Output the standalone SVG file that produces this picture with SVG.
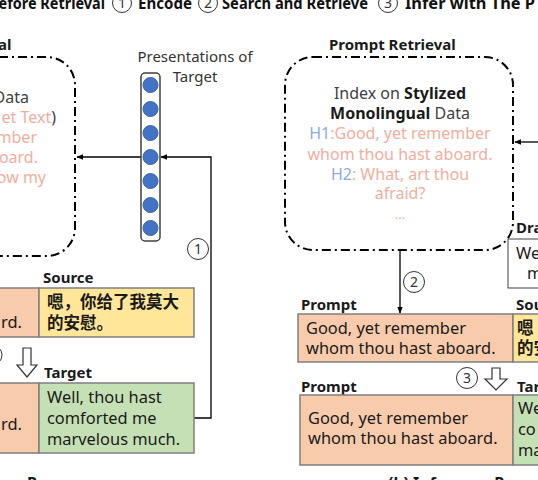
<svg xmlns="http://www.w3.org/2000/svg" width="538" height="480" viewBox="0 0 538 480">
<defs>
<style>
text{font-family:"Noto Sans","Noto Sans CJK SC",sans-serif;}
.b{font-weight:bold;}
.lg{font-size:15.5px;font-weight:bold;fill:#111;}
.lbl{font-size:15px;font-weight:bold;fill:#1a1a1a;}
.bx{font-size:16.4px;fill:#1a1a1a;}
.cjk{font-family:"Noto Sans CJK SC",sans-serif;font-size:16.5px;font-weight:bold;fill:#1a1a1a;}
.pk{fill:#F1AE9E;}
.bl{fill:#8FAADC;}
.gr{fill:#404040;}
.dash{fill:none;stroke:#000;stroke-width:2;stroke-dasharray:9 4 2 4;}
.box{stroke:#7F7F7F;stroke-width:1.5;}
.peach{fill:#F8CBAD;}
.yel{fill:#FFE699;}
.grn{fill:#C5E0B4;}
.dot{fill:#4472C4;stroke:#3A62AC;stroke-width:1;}
.ln{fill:none;stroke:#000;stroke-width:1.3;}
.circ{fill:#fff;stroke:#333;stroke-width:1;}
.num{font-size:14px;fill:#333;text-anchor:middle;}
.hollow{fill:#fff;stroke:#333;stroke-width:1.2;}
</style>
<marker id="ah" viewBox="0 0 10 10" refX="9" refY="5" markerWidth="7" markerHeight="7" orient="auto-start-reverse" markerUnits="userSpaceOnUse">
<path d="M0,1 L10,5 L0,9 z" fill="#000"/>
</marker>
</defs>
<rect width="538" height="480" fill="#fff"/>

<g id="legend">
<text x="-11" y="9" class="lg" textLength="116" lengthAdjust="spacingAndGlyphs">Before Retrieval</text>
<circle cx="122" cy="3" r="9.5" class="circ"/>
<text x="122" y="8" class="num">1</text>
<text x="138" y="9" class="lg" textLength="54" lengthAdjust="spacingAndGlyphs">Encode</text>
<circle cx="208" cy="3" r="9.5" class="circ"/>
<text x="208" y="8" class="num">2</text>
<text x="222" y="9" class="lg" textLength="146" lengthAdjust="spacingAndGlyphs">Search and Retrieve</text>
<circle cx="388" cy="3" r="9.5" class="circ"/>
<text x="388" y="8" class="num">3</text>
<text x="405" y="9" class="lg" textLength="130" lengthAdjust="spacingAndGlyphs">Infer with The P</text>
</g>

<g id="connectors">
<line x1="141" y1="157" x2="77" y2="157" class="ln" marker-end="url(#ah)"/>
<polyline points="194,418 211,418 211,157 161,157" class="ln" marker-end="url(#ah)"/>
<line x1="540" y1="142" x2="515" y2="142" class="ln" marker-end="url(#ah)"/>
<line x1="400" y1="251" x2="400" y2="313" class="ln" marker-end="url(#ah)"/>
</g>

<g id="left-retrieval">
<text x="-2" y="50" class="lbl">al</text>
<rect x="-200" y="57" width="275" height="199" rx="28" class="dash"/>
<text x="29" y="103" font-size="16" class="gr" text-anchor="end">Data</text>
<text x="56" y="123" font-size="16" text-anchor="end"><tspan class="pk">et Text</tspan><tspan class="gr">)</tspan></text>
<text x="37" y="143" font-size="16" class="pk" text-anchor="end">mber</text>
<text x="38" y="163" font-size="16" class="pk" text-anchor="end">oard.</text>
<text x="46" y="183" font-size="16" class="pk" text-anchor="end">ow my</text>
</g>

<g id="presentations">
<text x="195" y="62" font-size="15" fill="#333" text-anchor="middle">Presentations of</text>
<text x="195" y="82" font-size="15" fill="#333" text-anchor="middle">Target</text>
<rect x="141" y="73" width="19" height="168" rx="4" fill="#fff" stroke="#404040" stroke-width="1.5"/>
<circle cx="150.5" cy="85" r="7.5" class="dot"/>
<circle cx="150.5" cy="109" r="7.5" class="dot"/>
<circle cx="150.5" cy="133" r="7.5" class="dot"/>
<circle cx="150.5" cy="157" r="7.5" class="dot"/>
<circle cx="150.5" cy="181" r="7.5" class="dot"/>
<circle cx="150.5" cy="205" r="7.5" class="dot"/>
<circle cx="150.5" cy="228" r="7.5" class="dot"/>
</g>

<g id="step1">
<circle cx="198" cy="249" r="10.5" class="circ"/>
<text x="198" y="254" class="num">1</text>
</g>

<g id="left-source">
<text x="43" y="283" class="lbl">Source</text>
<rect x="-100" y="288" width="139" height="49" class="peach box"/>
<text x="22" y="328" class="bx" text-anchor="end">rd.</text>
<rect x="39" y="288" width="155" height="49" class="yel box"/>
<text x="47" y="308" class="cjk">嗯，你给了我莫大</text>
<text x="47" y="329" class="cjk">的安慰。</text>
</g>

<g id="left-arrow3">
<circle cx="-8" cy="355" r="10" class="circ"/>
<path d="M23,348 H31 V365 H37 L27,377 L17,365 H23 Z" class="hollow"/>
</g>

<g id="left-target">
<text x="44" y="378" class="lbl">Target</text>
<rect x="-100" y="383" width="139" height="70" class="peach box"/>
<text x="22" y="430" class="bx" text-anchor="end">rd.</text>
<rect x="39" y="383" width="155" height="70" class="grn box"/>
<text x="47" y="403" class="bx">Well, thou hast</text>
<text x="47" y="424" class="bx">comforted me</text>
<text x="47" y="445" class="bx">marvelous much.</text>
</g>

<g id="prompt-retrieval">
<text x="329" y="50" class="lbl">Prompt Retrieval</text>
<rect x="285" y="57" width="228" height="193" rx="28" class="dash"/>
<text x="400" y="99" font-size="16" text-anchor="middle"><tspan class="gr">Index on </tspan><tspan class="b" fill="#1a1a1a">Stylized</tspan></text>
<text x="400" y="119" font-size="16" text-anchor="middle"><tspan class="b" fill="#1a1a1a">Monolingual</tspan><tspan class="gr"> Data</tspan></text>
<text x="400" y="139" font-size="16" text-anchor="middle"><tspan class="bl">H1</tspan><tspan class="pk">:Good, yet remember</tspan></text>
<text x="400" y="160" font-size="16" class="pk" text-anchor="middle">whom thou hast aboard.</text>
<text x="400" y="180" font-size="16" text-anchor="middle"><tspan class="bl">H2</tspan><tspan class="pk">: What, art thou</tspan></text>
<text x="400" y="199" font-size="16" class="pk" text-anchor="middle">afraid?</text>
<text x="400" y="219" font-size="13" class="pk" text-anchor="middle">...</text>
</g>

<g id="draft">
<text x="516" y="233" class="lbl">Dra</text>
<rect x="508" y="239" width="40" height="49" fill="#fff" stroke="#404040" stroke-width="1"/>
<text x="516" y="259" class="bx">We</text>
<text x="527" y="279" class="bx">m</text>
</g>

<g id="step2">
<circle cx="414" cy="282" r="10.5" class="circ"/>
<text x="414" y="287" class="num">2</text>
</g>

<g id="prompt1">
<text x="301" y="310" class="lbl">Prompt</text>
<rect x="298" y="314" width="215" height="48" class="peach box"/>
<text x="306" y="334" class="bx">Good, yet remember</text>
<text x="306" y="354" class="bx">whom thou hast aboard.</text>
</g>

<g id="source2">
<text x="516" y="310" class="lbl">Sou</text>
<rect x="513" y="314" width="40" height="48" class="yel box"/>
<text x="517" y="334" class="cjk">嗯</text>
<text x="517" y="354" class="cjk">的安</text>
</g>

<g id="step3">
<circle cx="467" cy="378" r="10.5" class="circ"/>
<text x="467" y="383" class="num">3</text>
<path d="M492,368 H500 V379 H507 L496,390 L485,379 H492 Z" class="hollow"/>
</g>

<g id="prompt2">
<text x="301" y="392" class="lbl">Prompt</text>
<rect x="300" y="395" width="213" height="70" class="peach box"/>
<text x="308" y="424" class="bx">Good, yet remember</text>
<text x="308" y="444" class="bx">whom thou hast aboard.</text>
</g>

<g id="target2">
<text x="517" y="392" class="lbl">Tar</text>
<rect x="513" y="395" width="40" height="70" class="grn box"/>
<text x="518" y="414" class="bx">We</text>
<text x="518" y="435" class="bx">co</text>
<text x="518" y="456" class="bx">ma</text>
</g>

<g id="captions">
<text x="27" y="489" class="b" font-size="16" fill="#1a1a1a">P</text>
<text x="388" y="489" class="b" font-size="16" fill="#1a1a1a">(b) Inference P</text>
</g>
</svg>
